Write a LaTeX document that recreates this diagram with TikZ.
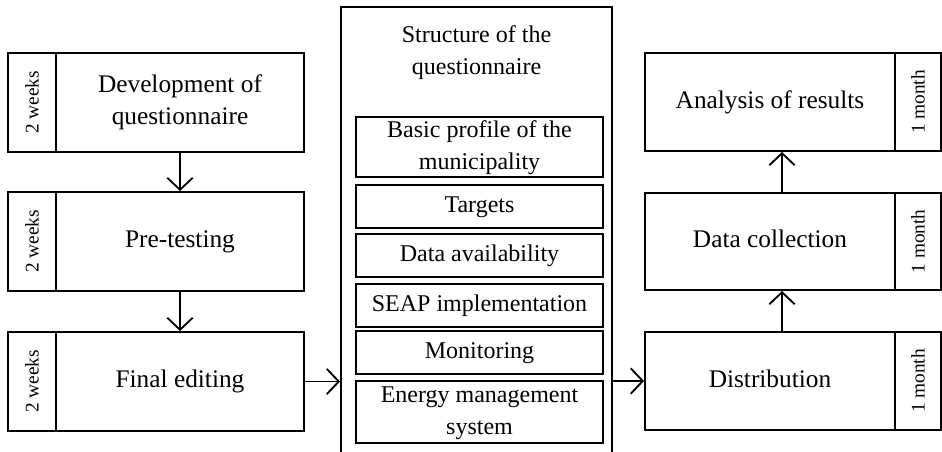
\documentclass[tikz,border=0pt]{standalone}
\usepackage{fontspec}
\setmainfont{Liberation Serif}
\usetikzlibrary{
  arrows.meta,  % Straight Barb arrow tips
  positioning   % relative placement
}

\newcommand{\px}{0.75pt}
\newcommand{\tstrut}{\rule[-6pt]{0pt}{21pt}}

\tikzset{
  stage/.style={draw, line width=1.4pt, minimum width=248*\px, minimum height=99*\px,
    align=center, inner sep=0pt, font=\fontsize{19}{24}\selectfont},
  period/.style={draw, line width=1.4pt, rotate=90, minimum width=99*\px,
    minimum height=48*\px, inner sep=0pt, font=\fontsize{14.5}{16}\selectfont},
  part/.style={draw, line width=1.4pt, minimum width=247*\px, align=center,
    inner sep=0pt, font=\fontsize{18}{24}\selectfont},
  flow/.style={-{Straight Barb[length=9pt, width=19pt]}, line width=1.4pt}
}

\begin{document}
\begin{tikzpicture}[x=0.75pt, y=-0.75pt]
  \useasboundingbox (0,0) rectangle (942,451);

  % left column: preparation
  \node[stage] (dev) at (180,102.5) {\tstrut Development of\\questionnaire\tstrut};
  \node[stage] (pre) at (180,241.5) {\tstrut Pre-testing};
  \node[stage] (fin) at (180,381.5) {\tstrut Final editing};
  \node[period] (devt) at (32,102.5) {2 weeks};
  \node[period] (pret) at (32,241.5) {2 weeks};
  \node[period] (fint) at (32,381.5) {2 weeks};

  % middle column: structure of the questionnaire
  \node[draw, line width=1.4pt, minimum width=271*\px, minimum height=466*\px,
    inner sep=0pt] (struct) at (476.5,240) {};
  \node[align=center, inner sep=0pt, font=\fontsize{18}{24}\selectfont] (title) at (476.5,52)
    {\tstrut Structure of the\\questionnaire\tstrut};
  \node[part, minimum height=60*\px] (profile) at (479.5,147) {\tstrut Basic profile of the\\municipality\tstrut};
  \node[part, minimum height=43*\px] (targets) at (479.5,206.5) {\tstrut Targets};
  \node[part, minimum height=43*\px] (avail) at (479.5,255.5) {\tstrut Data availability};
  \node[part, minimum height=43*\px] (seap) at (479.5,305.5) {\tstrut SEAP implementation};
  \node[part, minimum height=43*\px] (monit) at (479.5,352.5) {\tstrut Monitoring};
  \node[part, minimum height=62*\px] (energy) at (479.5,412) {\tstrut Energy management\\system\tstrut};

  % right column: survey
  \node[stage, minimum width=250*\px, minimum height=98*\px] (ana) at (770,102) {\tstrut Analysis of results};
  \node[stage, minimum width=250*\px, minimum height=97*\px] (coll) at (770,241.5) {\tstrut Data collection};
  \node[stage, minimum width=250*\px, minimum height=98*\px] (dist) at (770,381) {\tstrut Distribution};
  \node[period, minimum width=98*\px, minimum height=46*\px] (anat) at (918,102) {1 month};
  \node[period, minimum width=97*\px, minimum height=46*\px] (collt) at (918,241.5) {1 month};
  \node[period, minimum width=98*\px, minimum height=46*\px] (distt) at (918,381) {1 month};

  % arrows
  \draw[flow] (dev.south) -- (pre.north);
  \draw[flow] (pre.south) -- (fin.north);
  \draw[flow] (fin.east) -- (fin.east -| struct.west);
  \draw[flow] (dist.west -| struct.east) -- (dist.west);
  \draw[flow] ([xshift=12*\px]dist.north) -- ([xshift=12*\px]coll.south);
  \draw[flow] ([xshift=12*\px]coll.north) -- ([xshift=12*\px]ana.south);
\end{tikzpicture}
\end{document}
